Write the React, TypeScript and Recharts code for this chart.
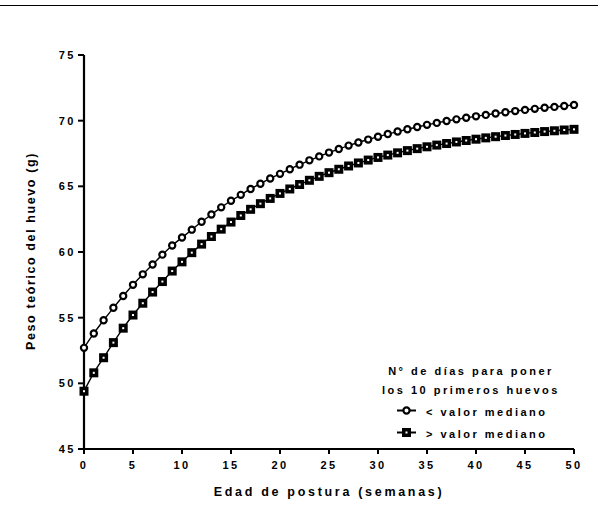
import React from 'react';
import { LineChart, Line, XAxis, YAxis, Label, Customized } from 'recharts';

const weeks = [0, 1, 2, 3, 4, 5, 6, 7, 8, 9, 10, 11, 12, 13, 14, 15, 16, 17, 18, 19, 20, 21, 22, 23, 24, 25, 26, 27, 28, 29, 30, 31, 32, 33, 34, 35, 36, 37, 38, 39, 40, 41, 42, 43, 44, 45, 46, 47, 48, 49, 50];

const belowMedian = [52.7, 53.8, 54.8, 55.75, 56.65, 57.5, 58.3, 59.05, 59.8, 60.5, 61.1, 61.7, 62.3, 62.85, 63.4, 63.9, 64.35, 64.8, 65.2, 65.6, 65.95, 66.3, 66.65, 66.98, 67.28, 67.57, 67.84, 68.1, 68.34, 68.56, 68.78, 68.98, 69.17, 69.35, 69.52, 69.68, 69.83, 69.97, 70.1, 70.22, 70.33, 70.44, 70.54, 70.64, 70.73, 70.82, 70.9, 70.98, 71.05, 71.12, 71.2];

const aboveMedian = [49.4, 50.8, 51.95, 53.1, 54.2, 55.2, 56.1, 56.95, 57.75, 58.55, 59.25, 59.95, 60.6, 61.18, 61.74, 62.28, 62.78, 63.25, 63.68, 64.08, 64.46, 64.8, 65.14, 65.46, 65.76, 66.04, 66.3, 66.55, 66.78, 67.0, 67.2, 67.38, 67.55, 67.72, 67.87, 68.01, 68.14, 68.26, 68.38, 68.49, 68.59, 68.69, 68.78, 68.87, 68.95, 69.03, 69.1, 69.17, 69.23, 69.29, 69.34];

const xTicks = [0, 5, 10, 15, 20, 25, 30, 35, 40, 45, 50];
const yTicks = [45, 50, 55, 60, 65, 70, 75];

const xTitle = 'Edad de postura (semanas)';
const yTitle = 'Peso teórico del huevo (g)';
const legendTitle = ['N° de días para poner', 'los 10 primeros huevos'];
const seriesNames = ['< valor mediano', '> valor mediano'];

const data = weeks.map((w, i) => ({ week: w, below: belowMedian[i], above: aboveMedian[i] }));

const FONT = '"Liberation Sans", Arial, sans-serif';

const CircleMark = ({ cx, cy }: any) => {
  if (cx == null || cy == null) return null;
  return <circle cx={cx} cy={cy} r={3.1} fill="#fff" stroke="#000" strokeWidth={2.2} />;
};

const SquareMark = ({ cx, cy }: any) => {
  if (cx == null || cy == null) return null;
  return (
    <g>
      <rect x={cx - 4.5} y={cy - 4.5} width={9} height={9} fill="#000" />
      <rect x={cx - 1} y={cy - 1} width={2} height={2} fill="#fff" />
    </g>
  );
};

const Overlay = () => {
  const textStyle: any = { fontFamily: FONT, fontWeight: 'bold', fontSize: 11, letterSpacing: 2.5, fill: '#000' };
  return (
    <g>
      <line x1={0} y1={5.5} x2={598} y2={5.5} stroke="#000" strokeWidth={1} />
      <text x={471} y={375} textAnchor="middle" style={textStyle}>{legendTitle[0]}</text>
      <text x={471} y={394} textAnchor="middle" style={textStyle}>{legendTitle[1]}</text>
      <line x1={397} y1={410.5} x2={416} y2={410.5} stroke="#000" strokeWidth={2} />
      <CircleMark cx={406.5} cy={410.5} />
      <text x={426} y={415.5} style={textStyle}>{seriesNames[0]}</text>
      <line x1={397} y1={432.5} x2={416} y2={432.5} stroke="#000" strokeWidth={2} />
      <SquareMark cx={406.5} cy={432.5} />
      <text x={426} y={437.5} style={textStyle}>{seriesNames[1]}</text>
    </g>
  );
};

const tickStyle = { fontFamily: FONT, fontWeight: 'bold', fontSize: 11, letterSpacing: 2.5, fill: '#000' };

export default function App() {
  return (
    <div style={{ position: 'absolute', left: 0, top: 0, width: 604, height: 509, background: '#fff' }}>
      <LineChart width={604} height={509} data={data} margin={{ top: 55, right: 30, bottom: 20, left: 44 }}>
        <XAxis
          dataKey="week"
          type="number"
          domain={[0, 50]}
          ticks={xTicks}
          height={40}
          axisLine={{ stroke: '#000', strokeWidth: 2.2 }}
          tickLine={{ stroke: '#000', strokeWidth: 2 }}
          tickSize={5}
          tickMargin={7}
          tick={tickStyle}
          interval={0}
        >
          <Label
            content={() => (
              <text
                x={329}
                y={496}
                textAnchor="middle"
                style={{ fontFamily: FONT, fontWeight: 'bold', fontSize: 12.5, letterSpacing: 2.7, fill: '#000' }}
              >
                {xTitle}
              </text>
            )}
          />
        </XAxis>
        <YAxis
          type="number"
          domain={[45, 75]}
          ticks={yTicks}
          width={40}
          axisLine={{ stroke: '#000', strokeWidth: 2.2 }}
          tickLine={{ stroke: '#000', strokeWidth: 2 }}
          tickSize={6}
          tickMargin={2}
          tick={tickStyle}
          interval={0}
        >
          <Label
            content={() => {
              const cx = 35;
              const cy = 251;
              return (
                <text
                  x={cx}
                  y={cy}
                  transform={`rotate(-90 ${cx} ${cy})`}
                  textAnchor="middle"
                  style={{ fontFamily: FONT, fontWeight: 'bold', fontSize: 12.5, letterSpacing: 1.6, fill: '#000' }}
                >
                  {yTitle}
                </text>
              );
            }}
          />
        </YAxis>
        <Line
          type="monotone"
          dataKey="below"
          stroke="#000"
          strokeWidth={1.4}
          dot={<CircleMark />}
          isAnimationActive={false}
        />
        <Line
          type="monotone"
          dataKey="above"
          stroke="#000"
          strokeWidth={1.4}
          dot={<SquareMark />}
          isAnimationActive={false}
        />
        <Customized component={<Overlay />} />
      </LineChart>
    </div>
  );
}
